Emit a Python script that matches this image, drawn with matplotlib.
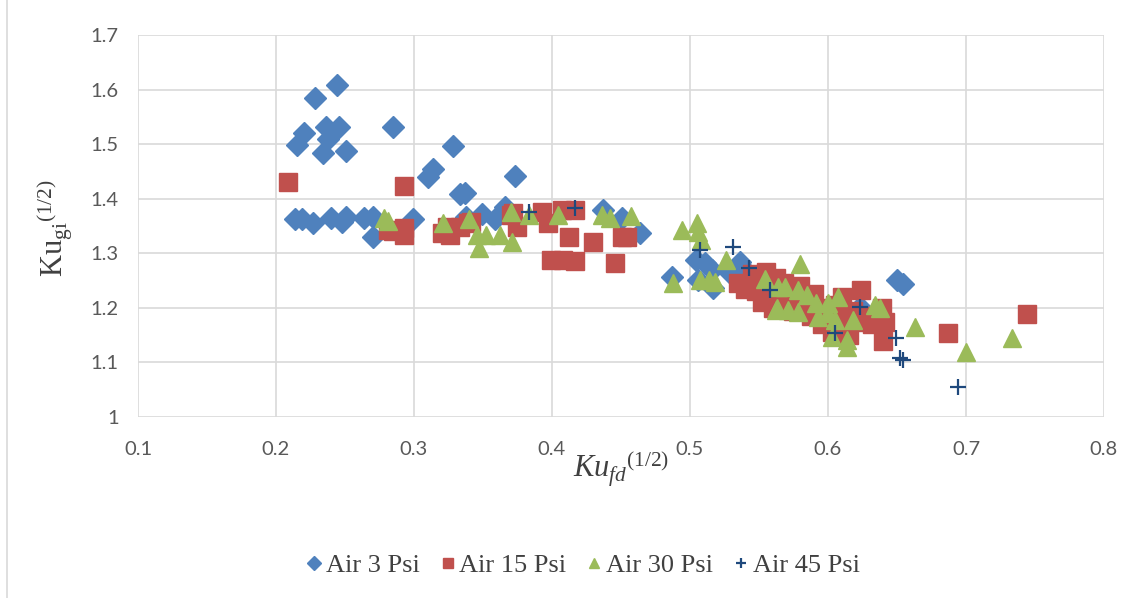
import matplotlib
matplotlib.use("Agg")
import matplotlib.pyplot as plt
from matplotlib.patches import Rectangle

# --- data -----------------------------------------------------------------
air3_x = [0.244, 0.228, 0.220, 0.215, 0.236, 0.246, 0.238, 0.234, 0.251, 0.285,
          0.328, 0.314, 0.310, 0.333, 0.337, 0.373,
          0.214, 0.219, 0.227, 0.240, 0.248, 0.251, 0.264, 0.270, 0.270, 0.299,
          0.338, 0.349, 0.359, 0.366, 0.437, 0.451, 0.464,
          0.487, 0.504, 0.511, 0.516, 0.506, 0.517, 0.536, 0.533, 0.540, 0.529,
          0.650, 0.654, 0.623]
air3_y = [1.609, 1.585, 1.521, 1.499, 1.532, 1.532, 1.510, 1.484, 1.488, 1.532,
          1.497, 1.455, 1.439, 1.409, 1.411, 1.442,
          1.363, 1.363, 1.356, 1.365, 1.358, 1.367, 1.365, 1.367, 1.330, 1.362,
          1.367, 1.372, 1.363, 1.385, 1.380, 1.365, 1.338,
          1.257, 1.288, 1.282, 1.270, 1.251, 1.237, 1.284, 1.270, 1.270, 1.264,
          1.251, 1.243, 1.202]

air15_x = [0.209, 0.293, 0.281, 0.285, 0.293, 0.293, 0.320, 0.326, 0.333, 0.339,
           0.372, 0.375, 0.324, 0.341, 0.370, 0.393, 0.397, 0.407, 0.417, 0.412,
           0.430, 0.451, 0.454, 0.399, 0.408, 0.417, 0.446,
           0.535, 0.540, 0.545, 0.548, 0.550, 0.552, 0.555, 0.558, 0.560, 0.562,
           0.565, 0.568, 0.570, 0.572, 0.575, 0.578, 0.580, 0.583, 0.585, 0.588,
           0.590, 0.593, 0.596, 0.600, 0.603, 0.605, 0.608, 0.610, 0.612, 0.615,
           0.618, 0.620, 0.624, 0.628, 0.632, 0.639, 0.638, 0.640, 0.641,
           0.687, 0.744]
air15_y = [1.431, 1.424, 1.343, 1.340, 1.347, 1.334, 1.338, 1.334, 1.349, 1.356,
           1.374, 1.349, 1.349, 1.358, 1.371, 1.376, 1.356, 1.380, 1.380, 1.330,
           1.321, 1.330, 1.330, 1.288, 1.288, 1.285, 1.283,
           1.245, 1.235, 1.262, 1.230, 1.252, 1.210, 1.265, 1.240, 1.200, 1.255,
           1.225, 1.245, 1.210, 1.235, 1.195, 1.225, 1.240, 1.205, 1.215, 1.185,
           1.225, 1.200, 1.170, 1.190, 1.155, 1.205, 1.170, 1.220, 1.180, 1.150,
           1.195, 1.175, 1.233, 1.185, 1.170, 1.200, 1.183, 1.140, 1.174,
           1.154, 1.189]

air30_x = [0.278, 0.281, 0.321, 0.340, 0.346, 0.347, 0.352, 0.362, 0.370, 0.371,
           0.383, 0.404, 0.436, 0.442, 0.457,
           0.494, 0.505, 0.506, 0.508, 0.488, 0.507, 0.514, 0.518, 0.526, 0.554,
           0.562, 0.580, 0.564, 0.569, 0.578, 0.585, 0.563, 0.571, 0.578, 0.591,
           0.593, 0.600, 0.600, 0.607, 0.605, 0.603, 0.614, 0.614, 0.618, 0.634,
           0.638, 0.663, 0.700, 0.733]
air30_y = [1.365, 1.360, 1.356, 1.362, 1.334, 1.310, 1.334, 1.334, 1.375, 1.321,
           1.370, 1.370, 1.370, 1.365, 1.368,
           1.343, 1.356, 1.339, 1.325, 1.246, 1.251, 1.251, 1.248, 1.288, 1.252,
           1.196, 1.281, 1.239, 1.239, 1.233, 1.224, 1.200, 1.196, 1.193, 1.209,
           1.183, 1.209, 1.191, 1.220, 1.178, 1.147, 1.141, 1.129, 1.178, 1.205,
           1.200, 1.165, 1.119, 1.145]

air45_x = [0.383, 0.417, 0.507, 0.531, 0.543, 0.558, 0.605, 0.623, 0.649, 0.652,
           0.654, 0.694]
air45_y = [1.376, 1.383, 1.306, 1.312, 1.273, 1.233, 1.154, 1.202, 1.145, 1.108,
           1.105, 1.055]

series_labels = ["Air 3 Psi", "Air 15 Psi", "Air 30 Psi", "Air 45 Psi"]
x_ticks = [0.1, 0.2, 0.3, 0.4, 0.5, 0.6, 0.7, 0.8]
y_ticks = [1.0, 1.1, 1.2, 1.3, 1.4, 1.5, 1.6, 1.7]
x_tick_labels = ["0.1", "0.2", "0.3", "0.4", "0.5", "0.6", "0.7", "0.8"]
y_tick_labels = ["1", "1.1", "1.2", "1.3", "1.4", "1.5", "1.6", "1.7"]

# --- style ----------------------------------------------------------------
plt.rcParams["mathtext.fontset"] = "custom"
plt.rcParams["mathtext.rm"] = "Liberation Serif"
plt.rcParams["mathtext.it"] = "Liberation Serif:italic"

W, H = 1141, 598
fig = plt.figure(figsize=(W / 100, H / 100), dpi=100)
ax = fig.add_axes([138 / W, 1 - 417 / H, (1104 - 138) / W, (417 - 35) / H])

# thin chart border
fig.patches.append(Rectangle((7 / W, -0.01), 1.2, 1.02, transform=fig.transFigure,
                             fill=False, edgecolor="#D9D9D9", linewidth=1.2))

blue, red, green, navy = "#4F81BD", "#C0504D", "#9BBB59", "#1F497D"

ax.plot(air3_x, air3_y, "D", ms=11.5, color=blue, mec=blue, label=series_labels[0],
        zorder=3, linestyle="none")
ax.plot(air15_x, air15_y, "s", ms=12.5, color=red, mec=red, label=series_labels[1],
        zorder=4, linestyle="none")
ax.plot(air30_x, air30_y, "^", ms=12.5, color=green, mec=green, label=series_labels[2],
        zorder=5, linestyle="none")
ax.plot(air45_x, air45_y, "+", ms=11, mew=1.6, color=navy, label=series_labels[3],
        zorder=6, linestyle="none")

ax.set_xlim(0.1, 0.8)
ax.set_ylim(1.0, 1.7)
ax.set_xticks(x_ticks)
ax.set_xticklabels(x_tick_labels)
ax.set_yticks(y_ticks)
ax.set_yticklabels(y_tick_labels)
ax.tick_params(length=0, labelsize=14.5, labelcolor="#595959")
ax.tick_params(axis="x", pad=17)
ax.tick_params(axis="y", pad=14)
for lab in ax.get_xticklabels() + ax.get_yticklabels():
    lab.set_family(["Liberation Sans Narrow", "Lato", "DejaVu Sans"])
ax.grid(True, color="#D9D9D9", linewidth=1.2)
ax.set_axisbelow(True)
for sp in ax.spines.values():
    sp.set_visible(False)

fig.text(55 / W, 1 - 228 / H, r"$\mathrm{Ku}_{\mathrm{gi}}{}^{\mathrm{(1/2)}}$",
         rotation=90, ha="center", va="center", fontsize=22, color="#404040")
fig.text(621 / W, 1 - 469 / H, r"$Ku_{fd}{}^{\mathrm{(1/2)}}$",
         ha="center", va="center", fontsize=22, color="#404040")

leg = fig.legend(loc="center", bbox_to_anchor=(583 / W, 1 - 565 / H), ncol=4,
                 frameon=False, markerscale=0.6, handlelength=0.6,
                 handletextpad=0.15, columnspacing=0.75,
                 prop={"family": "Liberation Serif", "size": 19})
for t in leg.get_texts():
    t.set_color("#404040")

fig.savefig("out.png", dpi=100)
